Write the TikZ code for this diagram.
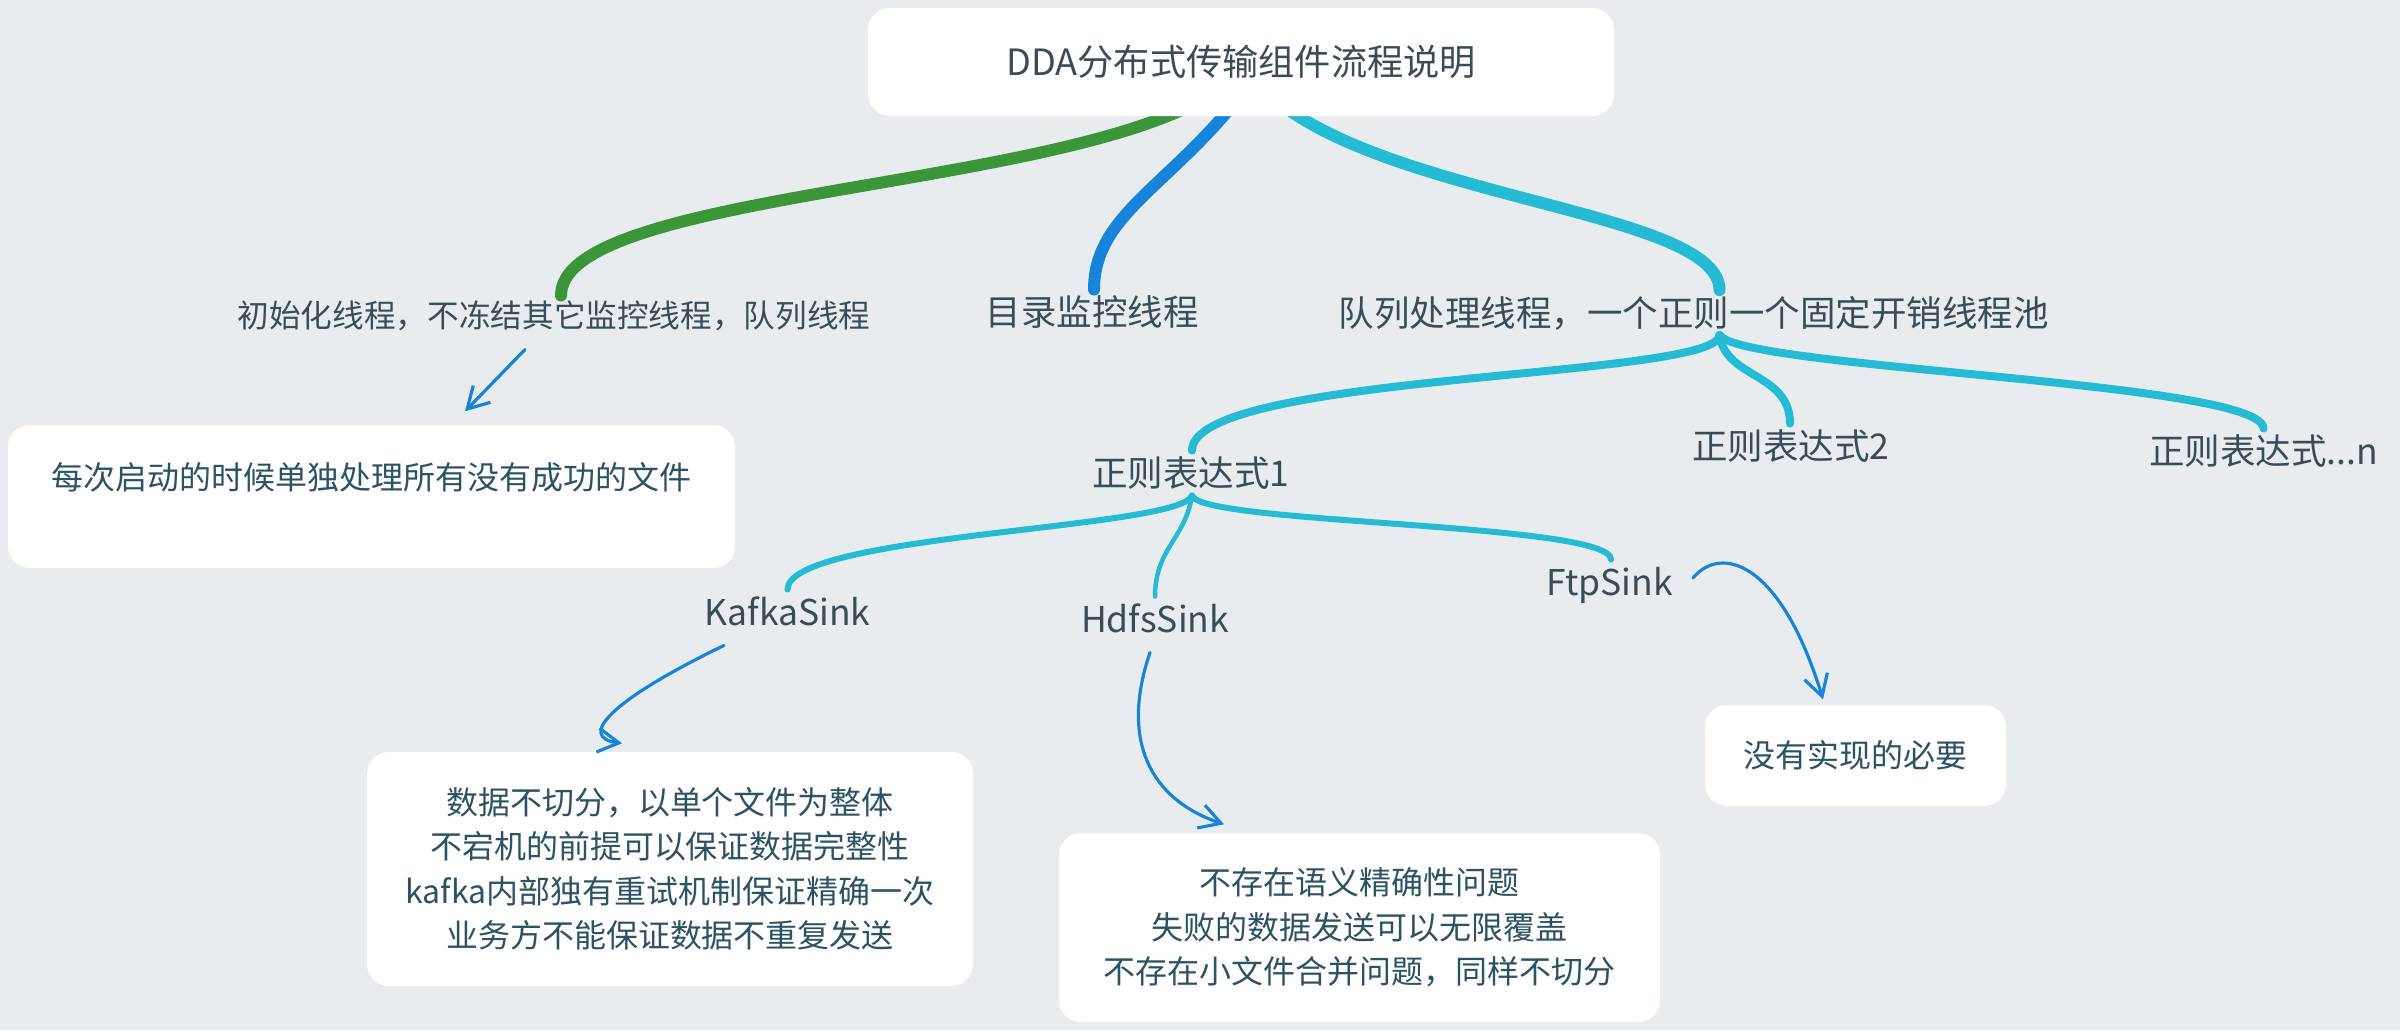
\documentclass[tikz,border=0pt]{standalone}
\usepackage{fontspec}
\setmainfont{Noto Sans CJK SC}
\usepackage{xcolor}
\definecolor{bg}{RGB}{232,236,239}
\definecolor{txt}{RGB}{58,76,88}
\definecolor{notetxt}{RGB}{44,82,102}
\definecolor{xgreen}{RGB}{58,150,57}
\definecolor{xblue}{RGB}{23,132,220}
\definecolor{xcyan}{RGB}{38,187,212}
\usetikzlibrary{arrows.meta}
\pgfdeclarelayer{bglayer}
\pgfdeclarelayer{branch}
\pgfsetlayers{bglayer,branch,main}
\tikzset{
  topic/.style={rectangle, rounded corners=0.22cm, fill=white, text=txt,
    minimum width=7.46cm, minimum height=1.08cm,
    font=\fontsize{10.3pt}{12pt}\selectfont},
  lvl/.style={text=txt, inner sep=0.04cm,
    font=\fontsize{10.1pt}{12pt}\selectfont, text height=8.9pt, text depth=1.2pt},
  lvlsmall/.style={lvl, font=\fontsize{9pt}{11pt}\selectfont,
    text height=7.9pt, text depth=1.1pt},
  note/.style={rectangle, rounded corners=0.22cm, fill=white, text=notetxt,
    align=center, inner sep=0pt, font=\fontsize{9.1pt}{12.66pt}\selectfont},
  br1/.style={line width=0.12cm, line cap=round},
  br2/.style={line width=0.08cm, line cap=round},
  br3/.style={line width=0.06cm, line cap=round},
  arr/.style={xblue, line width=0.9pt, line cap=round,
    -{Straight Barb[length=0.21cm,width=0.24cm]}}
}

\begin{document}
\begin{tikzpicture}[y=-1cm]
\begin{pgfonlayer}{bglayer}
\fill[bg] (0,0) rectangle (24,10.3);
\end{pgfonlayer}
\useasboundingbox (0,0) rectangle (24,10.3);

\node[topic] (root) at (12.41,0.62) {DDA分布式传输组件流程说明};
\node[lvlsmall] (b1) at (5.54,3.16) {初始化线程，不冻结其它监控线程，队列线程};
\node[lvl] (b2) at (10.92,3.12) {目录监控线程};
\node[lvl] (b3) at (16.935,3.125) {队列处理线程，一个正则一个固定开销线程池};
\node[lvl] (r1) at (11.91,4.73) {正则表达式1};
\node[lvl] (r2) at (17.91,4.46) {正则表达式2};
\node[lvl] (r3) at (22.635,4.51) {正则表达式...n};
\node[lvl] (s1) at (7.875,6.12) {KafkaSink};
\node[lvl] (s2) at (11.55,6.19) {HdfsSink};
\node[lvl] (s3) at (16.095,5.82) {FtpSink};
\node[note, minimum width=7.27cm, text height=0.64cm, text depth=0.79cm] (n1) at (3.715,4.965)
  {每次启动的时候单独处理所有没有成功的文件};
\node[note, minimum width=6.06cm, minimum height=2.34cm] (n2) at (6.70,8.69)
  {数据不切分，以单个文件为整体\\不宕机的前提可以保证数据完整性\\kafka内部独有重试机制保证精确一次\\业务方不能保证数据不重复发送};
\node[note, minimum width=6.01cm, minimum height=1.89cm] (n3) at (13.595,9.275)
  {不存在语义精确性问题\\失败的数据发送可以无限覆盖\\不存在小文件合并问题，同样不切分};
\node[note, minimum width=3.01cm, minimum height=1.01cm] (n4) at (18.555,7.555)
  {没有实现的必要};

\begin{pgfonlayer}{branch}
\draw[br1, xgreen] ([xshift=-0.61cm,yshift=0.06cm]root.south) .. controls +(-1.8,0.8) and +(0,-0.98) .. ([xshift=0.07cm]b1.north);
\draw[br1, xblue] ([xshift=-0.13cm,yshift=0.06cm]root.south) .. controls +(-0.68,0.8) and +(0,-0.7) .. ([xshift=0.02cm]b2.north);
\draw[br1, xcyan] ([xshift=0.49cm,yshift=0.06cm]root.south) .. controls +(1.3,0.9) and +(0,-0.75) .. ([xshift=0.26cm]b3.north);
\draw[br2, xcyan] ([xshift=0.26cm]b3.south) .. controls +(0,0.44) and +(0,-0.78) .. ([xshift=0.01cm]r1.north);
\draw[br2, xcyan] ([xshift=0.26cm]b3.south) .. controls +(0.06,0.44) and +(0,-0.51) .. ([xshift=-0.01cm]r2.north);
\draw[br2, xcyan] ([xshift=0.26cm]b3.south) .. controls +(0.21,0.34) and +(0,-0.47) .. (r3.north);
\draw[br3, xcyan] ([xshift=0.01cm]r1.south) .. controls +(-0.12,0.34) and +(0,-0.56) .. (s1.north);
\draw[br3, xcyan, line width=0.045cm] ([xshift=0.01cm]r1.south) .. controls +(-0.07,0.44) and +(0,-0.48) .. (s2.north);
\draw[br3, xcyan] ([xshift=0.01cm]r1.south) .. controls +(0.08,0.29) and +(0,-0.37) .. ([xshift=0.015cm]s3.north);
\end{pgfonlayer}

\draw[arr] ([xshift=-0.29cm,yshift=-0.13cm]b1.south) -- ([xshift=0.935cm,yshift=0.13cm]n1.north);
\draw[arr] ([xshift=-0.635cm,yshift=-0.11cm]s1.south) .. controls +(-1.14,0.55) and +(-0.45,-0.06) .. ([xshift=-0.48cm,yshift=0.08cm]n2.north);
\draw[arr] ([xshift=-0.05cm,yshift=-0.11cm]s2.south) .. controls +(-0.3,0.88) and +(-0.74,-0.25) .. ([xshift=-1.355cm,yshift=0.08cm]n3.north);
\draw[arr] ([xshift=0.835cm,yshift=0.04cm]s3.center) .. controls +(0.27,-0.33) and +(-0.43,-1.4) .. ([xshift=-0.325cm,yshift=0.05cm]n4.north);
\end{tikzpicture}
\end{document}
